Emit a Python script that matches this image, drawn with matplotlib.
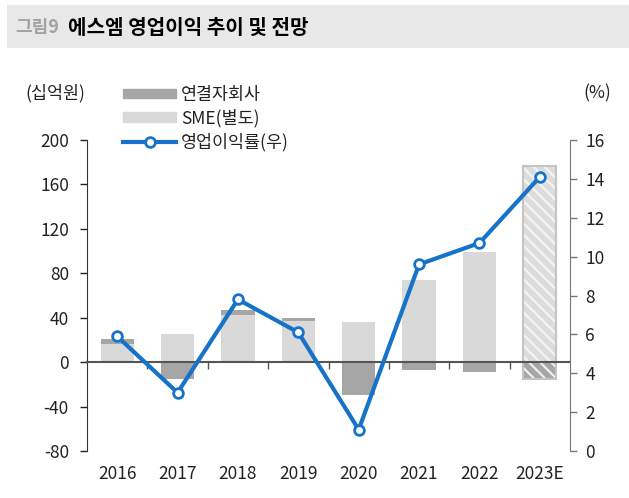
import numpy as np
import matplotlib.pyplot as plt
from matplotlib.patches import Patch, Rectangle
from matplotlib.lines import Line2D

plt.rcParams['font.family'] = ['Noto Sans CJK KR', 'DejaVu Sans']
plt.rcParams['hatch.linewidth'] = 1.6
plt.rcParams['axes.unicode_minus'] = False

years = ['2016', '2017', '2018', '2019', '2020', '2021', '2022', '2023E']
sme = [16, 25, 42, 37, 36, 74, 99, 177]          # SME(별도), 십억원
subs = [4.5, -15, 5, 3, -30, -7, -9, -15]        # 연결자회사, 십억원
margin = [5.9, 3.0, 7.8, 6.1, 1.1, 9.6, 10.7, 14.1]  # 영업이익률(우), %

c_sub = '#a6a6a6'
c_sme = '#d9d9d9'
c_line = '#1673c8'

fig = plt.figure(figsize=(6.29, 4.98), dpi=100)
fig.patches.append(Rectangle((7/629, 1-48/498), 622/629, 43/498, transform=fig.transFigure,
                             facecolor='#e8e8e8', edgecolor='none', zorder=0))
fig.text(15/629, 1-27/498, '그림9', fontsize=13, fontweight='bold', color='#a3a3a3', va='center')
fig.text(68/629, 1-27/498, '에스엠 영업이익 추이 및 전망', fontsize=14.5, fontweight='bold', color='black', va='center')

ax = fig.add_axes([87/629, 1-451/498, 483/629, 311/498])
x = np.arange(len(years))
w = 0.55
n = len(years) - 1

sme_b = np.array(sme, dtype=float)
sub_b = np.array(subs, dtype=float)
base = np.where(sub_b > 0, sme_b, 0)

ax.bar(x[:n], sme_b[:n], w, color=c_sme, zorder=2)
ax.bar(x[:n], sub_b[:n], w, bottom=base[:n], color=c_sub, zorder=2)
# estimate year: hatched
ax.bar(x[n:], sme_b[n:], w, color='#dcdcdc', edgecolor='#f4f4f4', hatch='\\\\\\', linewidth=0, zorder=2)
ax.bar(x[n:], sub_b[n:], w, bottom=base[n:], color=c_sub, edgecolor='#eeeeee', hatch='\\\\\\', linewidth=0, zorder=2)
ax.bar(x[n:], sme_b[n:] - sub_b[n:], w, bottom=sub_b[n:], fill=False, edgecolor='#c4c4c4', linewidth=1.5, zorder=3)

ax.set_xlim(-0.5, len(years) - 0.5)
ax.set_ylim(-80, 200)
ax.set_yticks(np.arange(-80, 201, 40))
ax.set_xticks(x)
ax.set_xticklabels(years)
ax.tick_params(axis='x', length=0, labelsize=12.5, pad=10, colors='#222222')
ax.tick_params(axis='y', length=5, width=1, labelsize=12.5, colors='#222222', pad=8)
for s in ['top', 'right', 'bottom']:
    ax.spines[s].set_visible(False)
ax.spines['left'].set_color('#333333')

# zero line with boundary ticks
zero = ax.secondary_xaxis(80 / 280)
zero.set_xticks(x[:-1] + 0.5)
zero.set_xticklabels([])
zero.tick_params(axis='x', direction='out', length=5, width=1, colors='#555555')
zero.spines['bottom'].set_color('#555555')
zero.spines['bottom'].set_linewidth(1.5)
zero.set_zorder(4)

ax2 = ax.twinx()
ax2.plot(x, margin, color=c_line, lw=3, marker='o', ms=7, mfc='white', mec=c_line, mew=2, zorder=5)
ax2.set_ylim(0, 16)
ax2.set_yticks(np.arange(0, 17, 2))
ax2.tick_params(axis='y', length=5, width=1, labelsize=12.5, colors='#777777', labelcolor='#222222', pad=6)
for s in ['top', 'left', 'bottom']:
    ax2.spines[s].set_visible(False)
ax2.spines['right'].set_color('#777777')

fig.text(25/629, 1-93/498, '(십억원)', fontsize=12.5, va='center', color='#222222')
fig.text(583/629, 1-93/498, '(%)', fontsize=12.5, va='center', color='#222222')

handles = [Patch(color=c_sub), Patch(color=c_sme),
           Line2D([], [], color=c_line, lw=3, marker='o', ms=7, mfc='white', mec=c_line, mew=2)]
labels = ['연결자회사', 'SME(별도)', '영업이익률(우)']
fig.legend(handles, labels, loc='upper left', bbox_to_anchor=(107/629, 1-70/498), frameon=False,
           fontsize=12.5, handlelength=3.1, handleheight=0.5, handletextpad=0.25, labelspacing=0.3,
           numpoints=1, labelcolor='#222222')

fig.savefig('out.png', dpi=100)
